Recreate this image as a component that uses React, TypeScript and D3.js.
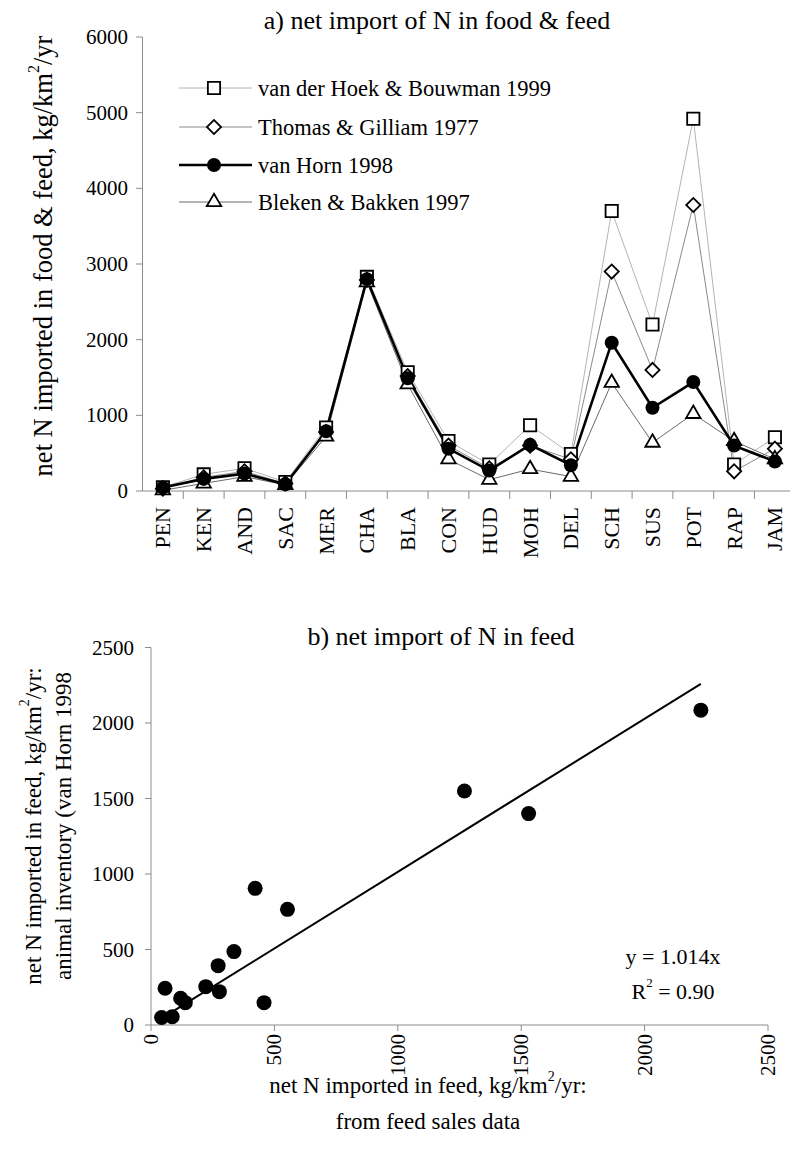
import React from "react";
import * as d3 from "d3";

const categories = ["PEN","KEN","AND","SAC","MER","CHA","BLA","CON","HUD","MOH","DEL","SCH","SUS","POT","RAP","JAM"];
const hoek = [50,220,300,120,840,2830,1570,660,350,870,490,3700,2200,4920,350,710];
const thomas = [30,180,260,100,780,2790,1520,600,300,600,420,2900,1600,3780,260,560];
const vanHorn = [45,160,230,90,790,2800,1490,560,270,610,340,1960,1100,1440,600,390];
const bleken = [10,100,190,80,720,2760,1410,420,150,290,190,1430,640,1020,660,420];
const seriesNames = ["van der Hoek & Bouwman 1999","Thomas & Gilliam 1977","van Horn 1998","Bleken & Bakken 1997"];
const topYTicks = [0,1000,2000,3000,4000,5000,6000];

const feedSales = [43,57,86,120,139,222,272,277,336,422,458,553,1270,1530,2228];
const animalInventory = [50,243,55,177,148,254,393,221,486,905,148,766,1550,1400,2085];
const slope = 1.014;
const bottomTicks = [0,500,1000,1500,2000,2500];

const FONT = "Liberation Serif, Times New Roman, serif";
const AX = "#8c8c8c";

type Kind = "square" | "diamond" | "circle" | "triangle";

function Marker({ kind, x, y }: { kind: Kind; x: number; y: number }) {
  if (kind === "circle") return <circle cx={x} cy={y} r={7} fill="#000" />;
  if (kind === "square") {
    const p = d3.symbol().type(d3.symbolSquare).size(150)();
    return <path d={p || ""} transform={`translate(${x},${y})`} fill="#fff" stroke="#000" strokeWidth={1.8} />;
  }
  if (kind === "diamond") {
    const p = d3.symbol().type(d3.symbolSquare).size(100)();
    return <path d={p || ""} transform={`translate(${x},${y}) rotate(45)`} fill="#fff" stroke="#000" strokeWidth={1.8} />;
  }
  const p = d3.symbol().type(d3.symbolTriangle).size(90)();
  return <path d={p || ""} transform={`translate(${x},${y})`} fill="#fff" stroke="#000" strokeWidth={1.8} />;
}

export default function App() {
  const xTop = d3.scaleBand<string>().domain(categories).range([142.5, 795.3]).padding(0);
  const yTop = d3.scaleLinear().domain([0, 6000]).range([491, 37]);
  const bw = xTop.bandwidth();
  const cx = (c: string) => (xTop(c) as number) + bw / 2;

  const lineGen = d3
    .line<number>()
    .x((_, i) => cx(categories[i]))
    .y((v) => yTop(v));

  const series: { data: number[]; kind: Kind; color: string; width: number }[] = [
    { data: hoek, kind: "square", color: "#b4b4b4", width: 1 },
    { data: thomas, kind: "diamond", color: "#8a8a8a", width: 1 },
    { data: bleken, kind: "triangle", color: "#6a6a6a", width: 1 },
    { data: vanHorn, kind: "circle", color: "#000", width: 2.6 },
  ];
  const legendSeries: { kind: Kind; color: string; width: number }[] = [
    { kind: "square", color: "#b4b4b4", width: 1 },
    { kind: "diamond", color: "#8a8a8a", width: 1 },
    { kind: "circle", color: "#000", width: 2.6 },
    { kind: "triangle", color: "#6a6a6a", width: 1 },
  ];
  const legendY = [88, 127, 165, 202];

  const xB = d3.scaleLinear().domain([0, 2500]).range([151, 768]);
  const yB = d3.scaleLinear().domain([0, 2500]).range([1025, 647.5]);
  const xMin = d3.min(feedSales) as number;
  const xMax = d3.max(feedSales) as number;

  const tstyle = { fontFamily: FONT };

  return (
    <svg
      width={790}
      height={1149}
      style={{ position: "absolute", left: 0, top: 0, background: "#fff", fontFamily: FONT }}
    >
      <rect x={0} y={0} width={790} height={1149} fill="#fff" />

      {/* ===== Top chart ===== */}
      <text style={tstyle} x={437} y={20} fontSize={26} textAnchor="middle" dominantBaseline="central">
        a) net import of N in food &amp; feed
      </text>
      <text
        style={tstyle}
        transform={`translate(43,256) rotate(-90)`}
        fontSize={26.5}
        textAnchor="middle"
        dominantBaseline="central"
      >
        net N imported in food &amp; feed, kg/km<tspan dy={-10} fontSize={16}>2</tspan>
        <tspan dy={10}>/yr</tspan>
      </text>

      <line x1={142.5} x2={142.5} y1={yTop(6000)} y2={yTop(0)} stroke={AX} strokeWidth={1} />
      {topYTicks.map((t) => (
        <g key={t}>
          <line x1={136} x2={142.5} y1={yTop(t)} y2={yTop(t)} stroke={AX} strokeWidth={1} />
          <text style={tstyle} x={128} y={yTop(t)} fontSize={21} textAnchor="end" dominantBaseline="central">
            {t}
          </text>
        </g>
      ))}
      <line x1={142.5} x2={795} y1={yTop(0)} y2={yTop(0)} stroke={AX} strokeWidth={1} />
      {categories.map((c) => (
        <g key={c}>
          <line
            x1={(xTop(c) as number) + bw}
            x2={(xTop(c) as number) + bw}
            y1={yTop(0)}
            y2={yTop(0) + 8}
            stroke={AX}
            strokeWidth={1}
          />
          <text
            style={tstyle}
            transform={`translate(${cx(c)},507) rotate(-90)`}
            fontSize={22}
            textAnchor="end"
            dominantBaseline="central"
          >
            {c}
          </text>
        </g>
      ))}

      {series.map((s, i) => (
        <path key={i} d={lineGen(s.data) || ""} fill="none" stroke={s.color} strokeWidth={s.width} />
      ))}
      {series.map((s, i) => (
        <g key={"m" + i}>
          {s.data.map((v, j) => (
            <Marker key={j} kind={s.kind} x={cx(categories[j])} y={yTop(v)} />
          ))}
        </g>
      ))}

      {legendSeries.map((s, i) => (
        <g key={"l" + i}>
          <line x1={179} x2={252} y1={legendY[i]} y2={legendY[i]} stroke={s.color} strokeWidth={s.width} />
          <Marker kind={s.kind} x={214} y={legendY[i]} />
          <text style={tstyle} x={258} y={legendY[i]} fontSize={22.5} dominantBaseline="central">
            {seriesNames[i]}
          </text>
        </g>
      ))}

      {/* ===== Bottom chart ===== */}
      <text style={tstyle} x={441} y={636} fontSize={26} textAnchor="middle" dominantBaseline="central">
        b) net import of N in feed
      </text>
      <g transform={`translate(33,826) rotate(-90)`}>
        <text style={tstyle} x={0} y={0} fontSize={23} textAnchor="middle" dominantBaseline="central">
          net N imported in feed, kg/km<tspan dy={-9} fontSize={14}>2</tspan>
          <tspan dy={9}>/yr:</tspan>
        </text>
        <text style={tstyle} x={0} y={30} fontSize={23} textAnchor="middle" dominantBaseline="central">
          animal inventory (van Horn 1998
        </text>
      </g>

      <line x1={xB(0)} x2={xB(0)} y1={yB(2500)} y2={yB(0)} stroke={AX} strokeWidth={1} />
      <line x1={xB(0)} x2={xB(2500)} y1={yB(0)} y2={yB(0)} stroke={AX} strokeWidth={1} />
      {bottomTicks.map((t) => (
        <g key={"by" + t}>
          <line x1={xB(0) - 6} x2={xB(0)} y1={yB(t)} y2={yB(t)} stroke={AX} strokeWidth={1} />
          <text style={tstyle} x={134} y={yB(t)} fontSize={21} textAnchor="end" dominantBaseline="central">
            {t}
          </text>
        </g>
      ))}
      {bottomTicks.map((t) => (
        <g key={"bx" + t}>
          <line x1={xB(t)} x2={xB(t)} y1={yB(0)} y2={yB(0) + 6} stroke={AX} strokeWidth={1} />
          <text
            style={tstyle}
            transform={`translate(${xB(t)},1034) rotate(-90)`}
            fontSize={21}
            textAnchor="end"
            dominantBaseline="central"
          >
            {t}
          </text>
        </g>
      ))}

      <line
        x1={xB(xMin)}
        y1={yB(slope * xMin)}
        x2={xB(xMax)}
        y2={yB(slope * xMax)}
        stroke="#000"
        strokeWidth={2}
      />
      {feedSales.map((v, i) => (
        <circle key={"p" + i} cx={xB(v)} cy={yB(animalInventory[i])} r={7.5} fill="#000" />
      ))}

      <text style={tstyle} x={673} y={956} fontSize={22} textAnchor="middle" dominantBaseline="central">
        y = 1.014x
      </text>
      <text style={tstyle} x={673} y={991} fontSize={22} textAnchor="middle" dominantBaseline="central">
        R<tspan dy={-9} fontSize={13}>2</tspan>
        <tspan dy={9}> = 0.90</tspan>
      </text>

      <text style={tstyle} x={428} y={1085} fontSize={23} textAnchor="middle" dominantBaseline="central">
        net N imported in feed, kg/km<tspan dy={-9} fontSize={14}>2</tspan>
        <tspan dy={9}>/yr:</tspan>
      </text>
      <text style={tstyle} x={428} y={1121} fontSize={23} textAnchor="middle" dominantBaseline="central">
        from feed sales data
      </text>
    </svg>
  );
}
